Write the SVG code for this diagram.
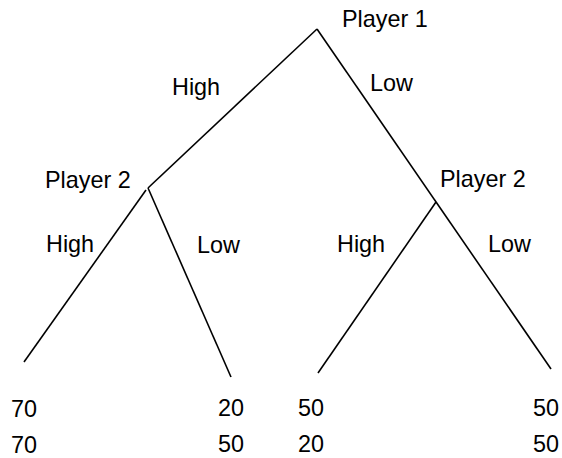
<svg xmlns="http://www.w3.org/2000/svg" width="562" height="458" viewBox="0 0 562 458">
<style>
text { font-family: "Liberation Sans", Arial, sans-serif; font-size: 23.4px; fill: #000; }
.edge { stroke: #000; stroke-width: 1.6; fill: none; stroke-linecap: butt; }
</style>
<rect width="562" height="458" fill="#fff"/>
<g id="connectors">
  <line class="edge" x1="317" y1="29" x2="148" y2="188"/>
  <line class="edge" x1="317" y1="29" x2="551" y2="369"/>
  <line class="edge" x1="146" y1="190" x2="24" y2="362"/>
  <line class="edge" x1="148" y1="188" x2="231" y2="377"/>
  <line class="edge" x1="436" y1="202" x2="318" y2="373"/>
  <text x="172" y="95">High</text>
  <text x="370" y="91">Low</text>
  <text x="46" y="252">High</text>
  <text x="197" y="253">Low</text>
  <text x="337" y="252">High</text>
  <text x="488" y="252">Low</text>
</g>
<g id="player1"><text x="342" y="27">Player 1</text></g>
<g id="player2-left"><text x="45" y="188">Player 2</text></g>
<g id="player2-right"><text x="440" y="187">Player 2</text></g>
<g id="leaf-hh"><text x="11" y="417">70</text><text x="11" y="453">70</text></g>
<g id="leaf-hl"><text x="218" y="416">20</text><text x="218" y="452">50</text></g>
<g id="leaf-lh"><text x="298" y="416">50</text><text x="298" y="452">20</text></g>
<g id="leaf-ll"><text x="533" y="416">50</text><text x="533" y="452">50</text></g>
</svg>
